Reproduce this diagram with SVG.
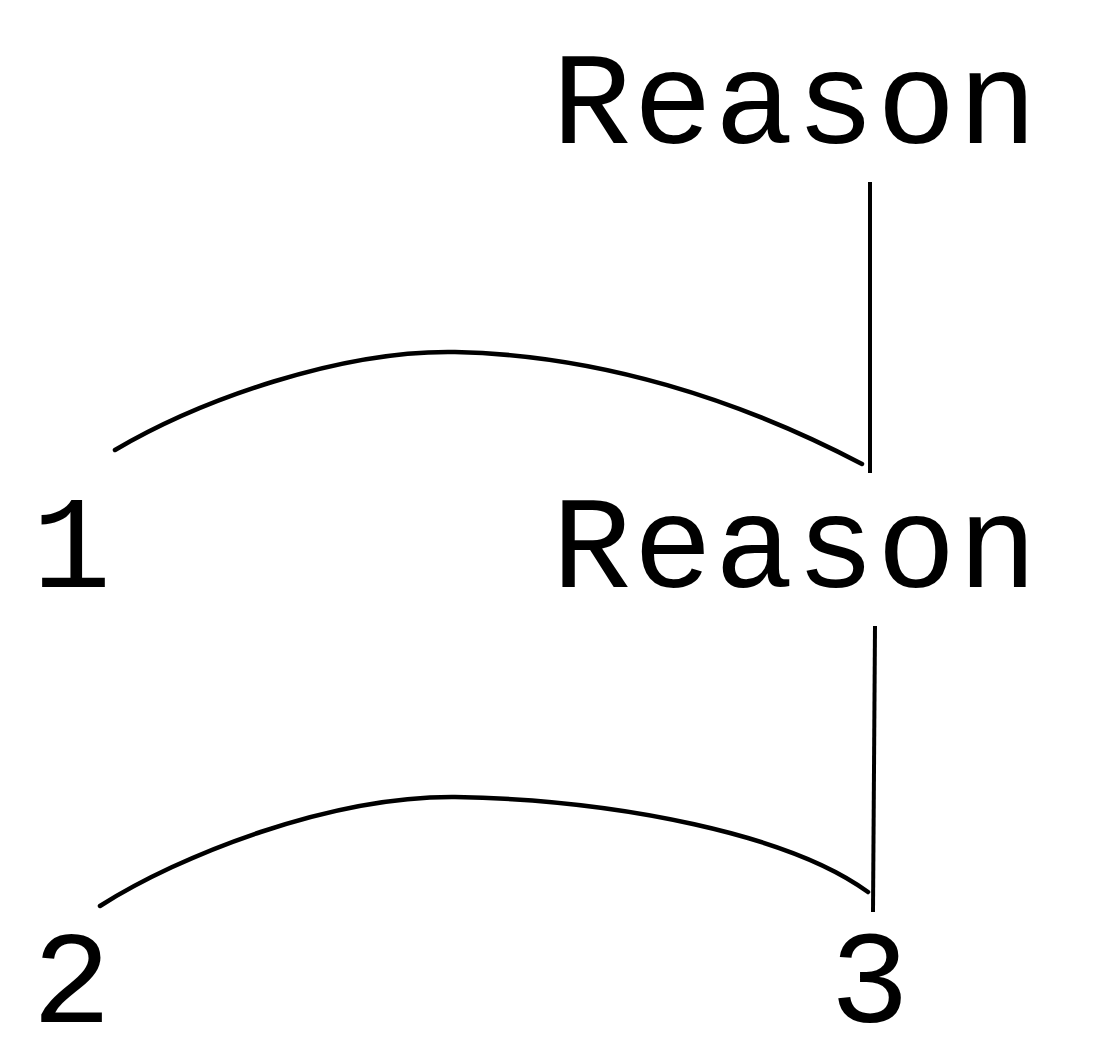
<svg xmlns="http://www.w3.org/2000/svg" width="1100" height="1044" viewBox="0 0 1100 1044">
<style>
.t{font-family:"Liberation Mono","Courier New",monospace;font-size:132px;fill:#000;letter-spacing:2px}
.c{fill:none;stroke:#000;stroke-width:4.5;stroke-linecap:round;stroke-linejoin:round}
.v{fill:none;stroke:#000;stroke-width:4;stroke-linecap:butt}
</style>
<rect width="1100" height="1044" fill="#fff"/>
<g id="node-reason-top"><text class="t" x="552" y="143">Reason</text></g>
<g id="node-1"><text class="t" x="32" y="587">1</text></g>
<g id="node-reason-mid"><text class="t" x="552" y="587">Reason</text></g>
<g id="node-2"><text class="t" x="32" y="1022">2</text></g>
<g id="node-3"><text class="t" x="830" y="1022">3</text></g>
<g id="connectors">
<path class="v" d="M870,182 L870,473"/>
<path class="c" d="M115,450 C200,400 340,350 455,352 C600,355 740,400 862,464"/>
<path class="v" d="M875,626 L873,912"/>
<path class="c" d="M100,906 C180,855 330,796 455,797 C620,800 790,835 868,892"/>
</g>
</svg>
